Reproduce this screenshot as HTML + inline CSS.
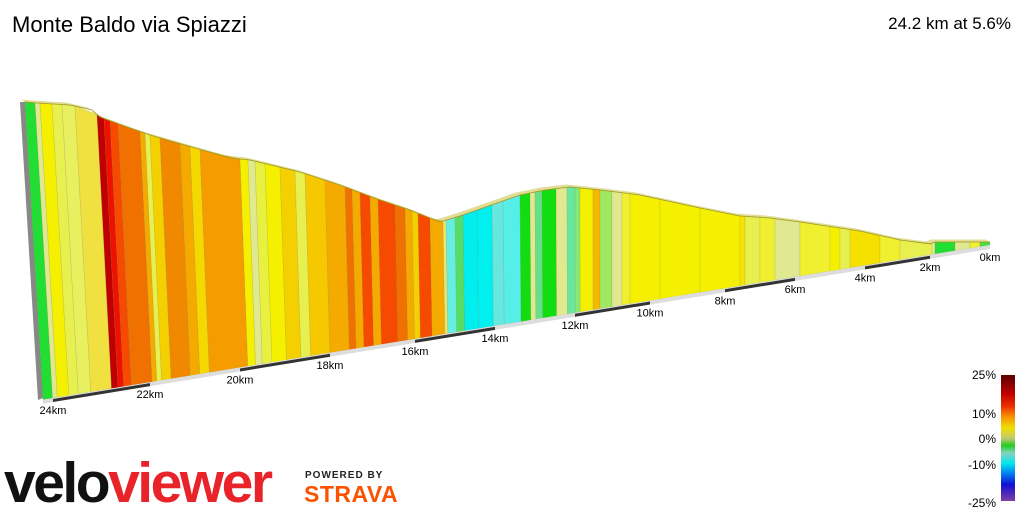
<!DOCTYPE html>
<html><head><meta charset="utf-8"><style>
body{margin:0;background:#fff;width:1024px;height:512px;overflow:hidden;font-family:"Liberation Sans",sans-serif}
svg{position:absolute;left:0;top:0}
</style></head><body>
<svg id="s" width="1024" height="512" xmlns="http://www.w3.org/2000/svg">
<defs>
<linearGradient id="lg" x1="0" y1="0" x2="0" y2="1">
<stop offset="0" stop-color="#5a0000"/><stop offset="0.15" stop-color="#c00000"/><stop offset="0.25" stop-color="#ee3000"/><stop offset="0.33" stop-color="#f59000"/><stop offset="0.42" stop-color="#f0e000"/><stop offset="0.5" stop-color="#c8c870"/><stop offset="0.56" stop-color="#22cc22"/><stop offset="0.62" stop-color="#88d0c0"/><stop offset="0.7" stop-color="#00e8f0"/><stop offset="0.78" stop-color="#0080f0"/><stop offset="0.87" stop-color="#1010d0"/><stop offset="1" stop-color="#8040a0"/>
</linearGradient>
</defs>
<text x="12" y="32" font-size="22" fill="#000">Monte Baldo via Spiazzi</text>
<text x="1011" y="29" font-size="17" fill="#000" text-anchor="end">24.2 km at 5.6%</text>
<g id="chart"></g>
<rect x="1001" y="375" width="14" height="126" fill="url(#lg)"/>
<g font-size="12" fill="#000" text-anchor="end">
<text x="996" y="379">25%</text><text x="996" y="418">10%</text><text x="996" y="443">0%</text><text x="996" y="469">-10%</text><text x="996" y="507">-25%</text>
</g>
<text x="4" y="502" font-size="57" font-weight="bold" letter-spacing="-2.5" fill="#111">velo<tspan fill="#e8242a">viewer</tspan></text>
<text x="305" y="478" font-size="10" font-weight="bold" fill="#222" letter-spacing="1">POWERED BY</text>
<text x="304" y="502" font-size="23" font-weight="bold" fill="#fc5200" letter-spacing="0.5">STRAVA</text>
</svg>
<script>
var tp=[[25,102],[37,103],[70,105],[92,110],[100,117],[130,128],[150,135],[230,158],[250,160],[300,172],[340,185],[380,200],[410,210],[440,222],[460,216],[480,209],[500,202],[520,195],[545,190],[570,187],[600,190],[640,195],[700,208],[740,216],[770,218],[800,222],[840,228],[860,231],[900,240],[930,244],[935,242],[990,242]];
function ty(x){for(var i=0;i<tp.length-1;i++){if(x<=tp[i+1][0]){var a=tp[i],b=tp[i+1];return a[1]+(b[1]-a[1])*(x-a[0])/(b[0]-a[0]);}}return 242;}
function by(x){return 398-0.1633*(x-53);}
function sl(x){return Math.max(0,0.06*(600-x)/575);}
var st=[[25,'#22dd33'],[35,'#e0e890'],[40,'#f5f000'],[52,'#e8f050'],[62,'#e8f060'],[75,'#f0e040'],[97,'#c00000'],[104,'#ee1100'],[110,'#f54a00'],[118,'#f07000'],[140,'#f5aa00'],[145,'#e8f050'],[150,'#f5d000'],[160,'#f08800'],[180,'#f5aa00'],[190,'#f5d800'],[200,'#f59c00'],[240,'#f5f000'],[248,'#e0e890'],[255,'#e8f040'],[265,'#f5f000'],[280,'#f5d000'],[295,'#e8f050'],[305,'#f5c800'],[325,'#f5aa00'],[345,'#f07000'],[352,'#f5aa00'],[360,'#f54a00'],[370,'#f5aa00'],[378,'#f54a00'],[395,'#f07000'],[405,'#f5aa00'],[412,'#f5d000'],[418,'#f54a00'],[430,'#f5aa00'],[443,'#e8e870'],[446,'#66eee0'],[455,'#55dd66'],[463,'#00eeee'],[477,'#00f0f0'],[492,'#66e8e0'],[503,'#55eee8'],[520,'#11dd11'],[530,'#e0e890'],[535,'#66e088'],[542,'#11dd11'],[556,'#e0e890'],[567,'#66e8a0'],[575,'#88e870'],[580,'#f5f000'],[593,'#f5b800'],[600,'#a0e860'],[612,'#e0e890'],[622,'#f0f030'],[630,'#f5f000'],[660,'#f5f000'],[700,'#f5f000'],[740,'#f5e400'],[745,'#e8f050'],[760,'#f0f030'],[775,'#e0e890'],[800,'#f0f030'],[830,'#f5f000'],[840,'#e8f050'],[850,'#f5e000'],[880,'#f0f030'],[900,'#e8f050'],[932,'#e0e890'],[935,'#22dd33'],[955,'#e0e890'],[970,'#f0f030'],[980,'#44dd44'],[990,null]];
var h='';
h+='<polygon points="20,102 25,102 43,398 38,400" fill="#888"/>';
for(var i=0;i<st.length-1;i++){var x0=st[i][0],x1=st[i+1][0];var t0=ty(x0),t1=ty(x1);
var b0=x0+sl(x0)*(by(x0)-t0),b1=x1+sl(x1)*(by(x1)-t1);
h+='<polygon points="'+x0+','+t0+' '+x1+','+t1+' '+b1+','+by(b1)+' '+b0+','+by(b0)+'" fill="'+st[i][1]+'" stroke="rgba(120,120,60,0.25)" stroke-width="0.6"/>';}
var p=tp.map(function(a){return a[0]+','+a[1]}).join(' ');
var p2=tp.slice().reverse().map(function(a){return (a[0]-4)+','+(a[1]-2.5)}).join(' ');
h+='<polygon points="'+p+' '+p2+'" fill="#c8c040" opacity="0.55"/>';
h+='<polyline points="'+p+'" fill="none" stroke="#a09a20" stroke-width="0.8"/>';
var km=[[24,53],[22,150],[20,240],[18,330],[16,415],[14,495],[12,575],[10,650],[8,725],[6,795],[4,865],[2,930],[0,990]];
h+='<polygon points="43,400 53,398 990,245 990,249 53,402 43,404" fill="#ddd"/>';
for(var i=0;i<km.length-1;i+=2){var a=km[i][1],b=km[i+1][1];h+='<polygon points="'+a+','+(by(a)+1)+' '+b+','+(by(b)+1)+' '+b+','+(by(b)+4)+' '+a+','+(by(a)+4)+'" fill="#333"/>';}
for(var i=0;i<km.length;i++){var x=km[i][1];h+='<text x="'+x+'" y="'+(by(x)+16)+'" font-size="11" text-anchor="middle" fill="#000">'+km[i][0]+'km</text>';}
document.getElementById('chart').innerHTML=h;
</script>
</body></html>
